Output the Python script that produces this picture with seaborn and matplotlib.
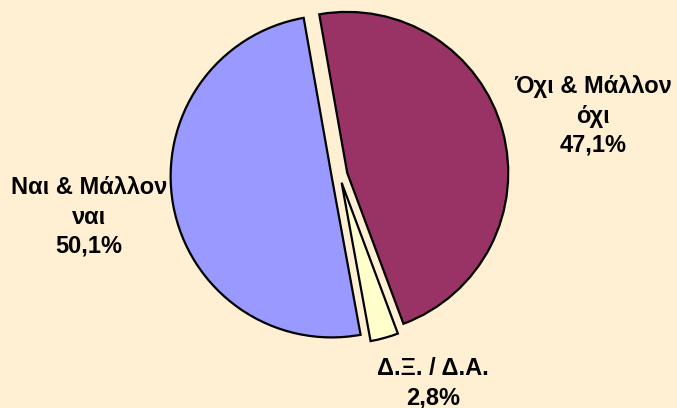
import matplotlib
matplotlib.use('Agg')
import matplotlib.pyplot as plt
import seaborn as sns

# data
categories = ['Όχι & Μάλλον\nόχι', 'Δ.Ξ. / Δ.Α.', 'Ναι & Μάλλον\nναι']
shares = [47.1, 2.8, 50.1]
share_labels = ['47,1%', '2,8%', '50,1%']

# styling
slice_colors = ['#993366', '#FFFFCC', '#9999FF']
bg = '#FFF0D4'
label_pos = [(593, 116), (433, 383), (89, 217)]  # pixel positions (y from top)

sns.set_theme(style='white')
plt.rcParams['font.family'] = ['Liberation Sans', 'DejaVu Sans']

W, H = 677, 408
fig = plt.figure(figsize=(W / 100, H / 100), dpi=100, facecolor=bg)
ax = fig.add_axes([0, 0, 1, 1])
ax.set_facecolor(bg)

# explode is in data units here (pixels), since radius is in pixels
ax.pie(shares, colors=slice_colors, startangle=100, counterclock=False,
       explode=[8] * len(shares), radius=161, center=(339.5, H - 175),
       wedgeprops=dict(edgecolor='black', linewidth=1.6))

for name, pct, (x, y) in zip(categories, share_labels, label_pos):
    ax.text(x, H - y, f'{name}\n{pct}', ha='center', va='center',
            fontsize=17, fontweight='bold', color='black', linespacing=1.34)

ax.set_xlim(0, W)
ax.set_ylim(0, H)
ax.set_axis_off()

fig.savefig('out.png', dpi=100, facecolor=bg)
